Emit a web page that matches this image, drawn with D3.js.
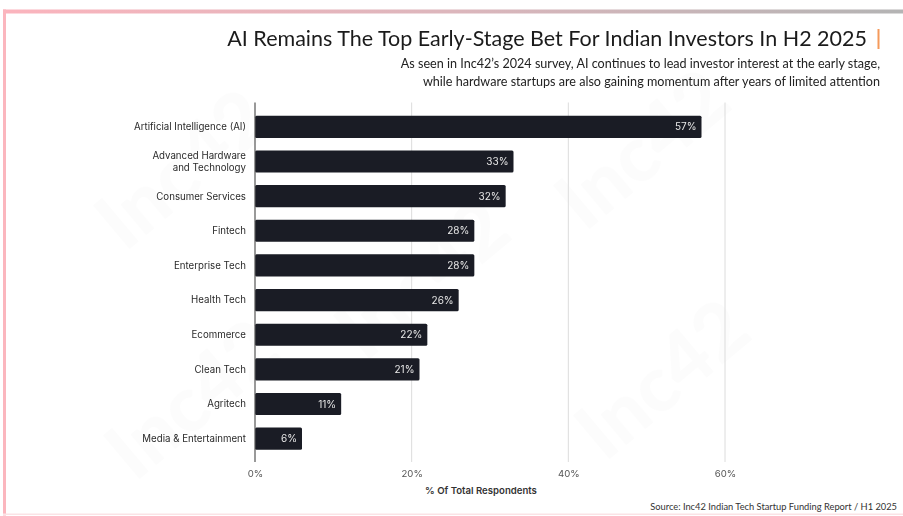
<!DOCTYPE html>
<html><head><meta charset="utf-8">
<script src="https://cdn.jsdelivr.net/npm/d3@7"></script>
<style>body{margin:0;background:#fff;}svg{display:block;}</style>
</head><body>
<svg id="c" width="903" height="516"></svg>
<script>
const categories = ["Artificial Intelligence (AI)","Advanced Hardware\nand Technology","Consumer Services","Fintech","Enterprise Tech","Health Tech","Ecommerce","Clean Tech","Agritech","Media & Entertainment"];
const values = [57,33,32,28,28,26,22,21,11,6];
const ticks = [0,20,40,60];
const title = "AI Remains The Top Early-Stage Bet For Indian Investors In H2 2025";
const subtitle = ["As seen in Inc42’s 2024 survey, AI continues to lead investor interest at the early stage,","while hardware startups are also gaining momentum after years of limited attention"];
const xTitle = "% Of Total Respondents";
const source = "Source: Inc42 Indian Tech Startup Funding Report / H1 2025";

const svg = d3.select("#c");
const defs = svg.append("defs");
const g1 = defs.append("linearGradient").attr("id","tg").attr("x1","0").attr("x2","1");
g1.append("stop").attr("offset","0").attr("stop-color","#fbb4bd");
g1.append("stop").attr("offset","0.5").attr("stop-color","#dcb6bc");
g1.append("stop").attr("offset","1").attr("stop-color","#b4b4b4");

// frame
svg.append("rect").attr("x",3).attr("y",9.5).attr("width",900).attr("height",4).attr("fill","url(#tg)");
svg.append("rect").attr("x",3).attr("y",9.5).attr("width",3).attr("height",506).attr("fill","#fbb6be");
svg.append("rect").attr("x",3).attr("y",513.5).attr("width",900).attr("height",1.5).attr("fill","#fbe3e6");

// watermark
const wm = svg.append("g").attr("fill","#000").attr("opacity",0.014)
  .style("font-family","Lato, sans-serif").style("font-weight","900").style("font-size","78px");
[[200,190],[660,170],[210,420],[680,400],[440,300]].forEach(p=>{
  wm.append("text").attr("transform",`translate(${p[0]},${p[1]}) rotate(-40)`).attr("text-anchor","middle").text("Inc42");
});

// titles
svg.append("text").attr("x",867).attr("y",46).attr("text-anchor","end")
  .style("font-family","Lato, sans-serif").style("font-size","21.5px").attr("fill","#1b1b1b").text(title);
svg.append("rect").attr("x",877.5).attr("y",29).attr("width",2).attr("height",20).attr("fill","#f59a5b");
subtitle.forEach((s,i)=>{
  svg.append("text").attr("x",880).attr("y",68+i*18).attr("text-anchor","end")
    .style("font-family","Lato, sans-serif").style("font-size","12.6px").attr("fill","#222").text(s);
});

const x = d3.scaleLinear().domain([0,60]).range([255,725]);
const y = d3.scaleBand().domain(categories).range([109.5,456]).paddingInner(0.36).paddingOuter(0.18);

// grid
svg.append("g").selectAll("line").data(ticks.filter(t=>t>0)).join("line")
  .attr("x1",d=>x(d)).attr("x2",d=>x(d)).attr("y1",102.5).attr("y2",462)
  .attr("stroke","#dcdcdc").attr("stroke-width",1);

// bars
svg.append("g").selectAll("rect").data(values).join("rect")
  .attr("x",x(0)).attr("y",(d,i)=>y(categories[i]))
  .attr("width",d=>x(d)-x(0)).attr("height",y.bandwidth())
  .attr("rx",1.5).attr("fill","#1a1c25");

// axis line
svg.append("line").attr("x1",x(0)).attr("x2",x(0)).attr("y1",102.5).attr("y2",462).attr("stroke","#555").attr("stroke-width",1.2);

// value labels
svg.append("g").selectAll("text").data(values).join("text")
  .attr("x",d=>x(d)-5).attr("y",(d,i)=>y(categories[i])+y.bandwidth()/2).attr("dy","0.35em")
  .attr("text-anchor","end").attr("fill","#e8e8e8")
  .style("font-family","Inter, sans-serif").style("font-size","10px").text(d=>d+"%");

// category labels
const cl = svg.append("g").selectAll("text").data(categories).join("text")
  .attr("x",246).attr("y",d=>y(d)+y.bandwidth()/2).attr("text-anchor","end").attr("fill","#2a2a2a")
  .style("font-family","Inter, sans-serif").style("font-size","9.7px");
cl.each(function(d){
  const lines = d.split("\n");
  const t = d3.select(this);
  lines.forEach((l,i)=>{
    t.append("tspan").attr("x",246).attr("dy", i===0 ? ((0.35-(lines.length-1)*0.6)+"em") : "1.2em").text(l);
  });
});

// x axis ticks
const xa = d3.axisBottom(x).tickValues(ticks).tickFormat(d=>d+"%").tickSize(0).tickPadding(0);
const ax = svg.append("g").attr("transform","translate(0,477)").call(xa);
ax.select(".domain").remove();
ax.selectAll("text").attr("fill","#555").attr("dy",0)
  .style("font-family","Inter, sans-serif").style("font-size","9.6px");

svg.append("text").attr("x",481).attr("y",494).attr("text-anchor","middle").attr("fill","#333")
  .style("font-family","Inter, sans-serif").style("font-size","9.6px").style("font-weight","600").text(xTitle);

svg.append("text").attr("x",897).attr("y",510).attr("text-anchor","end").attr("fill","#333")
  .style("font-family","Lato, sans-serif").style("font-size","9.3px").text(source);
</script>
</body></html>
